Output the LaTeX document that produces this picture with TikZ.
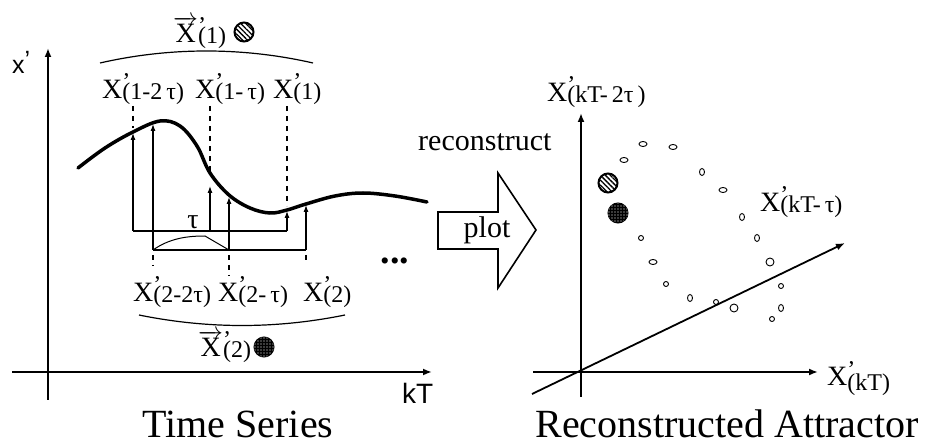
\documentclass[tikz,border=0pt]{standalone}
\usepackage{fontspec}
\setmainfont{Liberation Serif}
\newfontfamily\arialfont{Liberation Sans}
\usetikzlibrary{arrows.meta, patterns.meta}

% X' label with its lowered index
\newcommand{\xsub}[2][0.5pt]{{\fontsize{28}{28}\selectfont X}\rlap{\raisebox{9pt}{\fontsize{24}{24}\selectfont ’}}\raisebox{-#1}{\fontsize{24}{24}\selectfont #2}}
% vector form of the same label
\newcommand{\xvec}[1]{{\fontsize{28}{28}\selectfont$\overrightarrow{\hbox{X}}$}\rlap{\raisebox{9pt}{\fontsize{24}{24}\selectfont ’}}\raisebox{-1pt}{\fontsize{24}{24}\selectfont #1}}

\begin{document}
\begin{tikzpicture}[
        x=1pt, y=-1pt, % pixel grid of the original picture
        eixo/.style={-{Latex[length=9pt,width=7pt]}, line width=1.8pt},
        haste/.style={-{Latex[length=7pt,width=5pt]}, line width=1.1pt},
        guia/.style={dash pattern=on 5pt off 5pt, line width=1.2pt},
        serie/.style={line width=3.5pt, line cap=round},
        chave/.style={line width=1.2pt},
        rotulo/.style={anchor=base west, inner sep=0pt},
        ponto/.style={line width=0.9pt},
        listrado/.style={circle, draw, line width=2pt, minimum size=19pt, inner sep=0pt,
            pattern={Lines[angle=-45, distance=3.5pt, line width=1.3pt]}},
        pontilhado/.style={circle, draw, line width=1pt, minimum size=20pt, inner sep=0pt, fill=black,
            postaction={pattern={Dots[distance=3pt, radius=0.55pt]}, pattern color=white}}
        ]
        \useasboundingbox (0,0) rectangle (927,446);

        % ---- serie temporal ----
        \coordinate (oa) at (48,372);
        \draw[eixo] (48,400) -- (48,48);
        \draw[eixo] (12,372) -- (432,372);
        \node[anchor=base west, inner sep=0pt, font=\arialfont\fontsize{25}{25}\selectfont] (xlin) at (12,74) {x\raisebox{5pt}{’}};
        \node[anchor=base west, inner sep=0pt, font=\arialfont\fontsize{28}{28}\selectfont] (kt) at (402,403) {kT};

        \draw[serie] plot[smooth, tension=0.6] coordinates {
            (78,168) (105,148) (133,132) (160,121) (180,126) (197,146) (210,173)
            (229,195) (250,208) (270,213) (287,210) (306,204) (335,196) (363,193) (395,196) (427,202)};

        % pontos da curva
        \coordinate (c1) at (133,133);
        \coordinate (c2) at (210,186);
        \coordinate (c3) at (287,211);
        \coordinate (d1) at (153,124);
        \coordinate (d2) at (229,197);
        \coordinate (d3) at (306,205);

        % primeiro vetor
        \draw[haste] (133,231) -- (c1);
        \draw[haste] (210,231) -- (c2);
        \draw[haste] (287,231) -- (c3);
        \draw[line width=1.1pt] (133,231) -- (287,231);
        \draw[guia] (133,106) -- (133,128);
        \draw[guia] (210,106) -- (210,174);
        \draw[guia] (287,106) -- (287,206);

        % segundo vetor
        \draw[haste] (153,250) -- (d1);
        \draw[haste] (229,250) -- (d2);
        \draw[haste] (306,250) -- (d3);
        \draw[line width=1.1pt] (153,250) -- (306,250);
        \draw[line width=1pt] (153,250) .. controls (170,238) and (188,236) .. (205,236) -- (229,250);
        \draw[guia] (153,255) -- (153,266);
        \draw[guia] (229,255) -- (229,276);
        \draw[guia] (306,255) -- (306,264);
        \node[inner sep=0pt, font=\fontsize{28}{28}\selectfont] (tau) at (193,222) {τ};

        \node[rotulo] (a1) at (102,99) {\xsub{(1-2\,τ)}};
        \node[rotulo] (a2) at (195,99) {\xsub{(1-\,τ)}};
        \node[rotulo] (a3) at (273,99) {\xsub{(1)}};
        \node[rotulo] (b1) at (133,302) {\xsub{(2-2τ)}};
        \node[rotulo] (b2) at (218,302) {\xsub{(2-\,τ)}};
        \node[rotulo] (b3) at (303,302) {\xsub{(2)}};

        \draw[chave] (100,63) .. controls (170,47) and (243,47) .. (313,63);
        \draw[chave] (139,315) .. controls (208,329) and (276,329) .. (345,315);
        \node[rotulo] (v1) at (173,43) {\xvec{(1)}};
        \node[listrado] (p1) at (244,32) {};
        \node[rotulo] (v2) at (198,357) {\xvec{(2)}};
        \node[pontilhado] (p2) at (264,347) {};
        \node[anchor=base, inner sep=0pt, font=\bfseries\fontsize{38}{38}\selectfont] (etc) at (395,264) {...};

        \node[anchor=base, inner sep=0pt, font=\fontsize{40}{40}\selectfont] (ts) at (238,437) {Time Series};

        % ---- seta de passagem ----
        \draw[line width=1.6pt, line join=miter] (438,212) -- (498,212) -- (498,173) -- (536,230)
            -- (498,288) -- (498,249) -- (438,249) -- cycle;
        \node[anchor=base, inner sep=0pt, font=\fontsize{30}{30}\selectfont] (plot) at (487,238) {plot};
        \node[anchor=base west, inner sep=0pt, font=\fontsize{30}{30}\selectfont] (rec) at (418,151) {reconstruct};

        % ---- atrator ----
        \coordinate (ob) at (581,372);
        \draw[eixo] (581,397) -- (581,113);
        \draw[eixo] (533,372) -- (818,372);
        \draw[eixo] (532,394) -- (845,243);
        \node[rotulo] (y1) at (547,102) {\xsub{(kT-\,2τ\,)}};
        \node[rotulo] (y2) at (760,212) {\xsub{(kT-\,τ)}};
        \node[rotulo] (y3) at (827,386) {\xsub[5pt]{(kT)}};

        \foreach \px/\py/\rx/\ry in {643/144/4/2.5, 673/147/4/2.5, 624/160/4/2.5, 702/172/2.5/3.5,
            723/190/4/2.5, 742/217/2.5/3.5, 641/238/2.5/2.5, 757/238/2.5/3.5, 653/262/4/2.5,
            770/262/4/4, 666/284/2.5/2.5, 781/286/2.5/2.5, 690/298/2.5/3.5, 716/302/2.5/2.5,
            734/308/4/4, 781/308/2.5/3.5, 772/319/2.5/2.5}
            \draw[ponto] (\px,\py) ellipse [x radius=\rx pt, y radius=\ry pt];

        \node[listrado] (q1) at (608,183) {};
        \node[pontilhado] (q2) at (618,213) {};

        \node[anchor=base, inner sep=0pt, font=\fontsize{40}{40}\selectfont] (ra) at (727,437) {Reconstructed Attractor};
\end{tikzpicture}
\end{document}
